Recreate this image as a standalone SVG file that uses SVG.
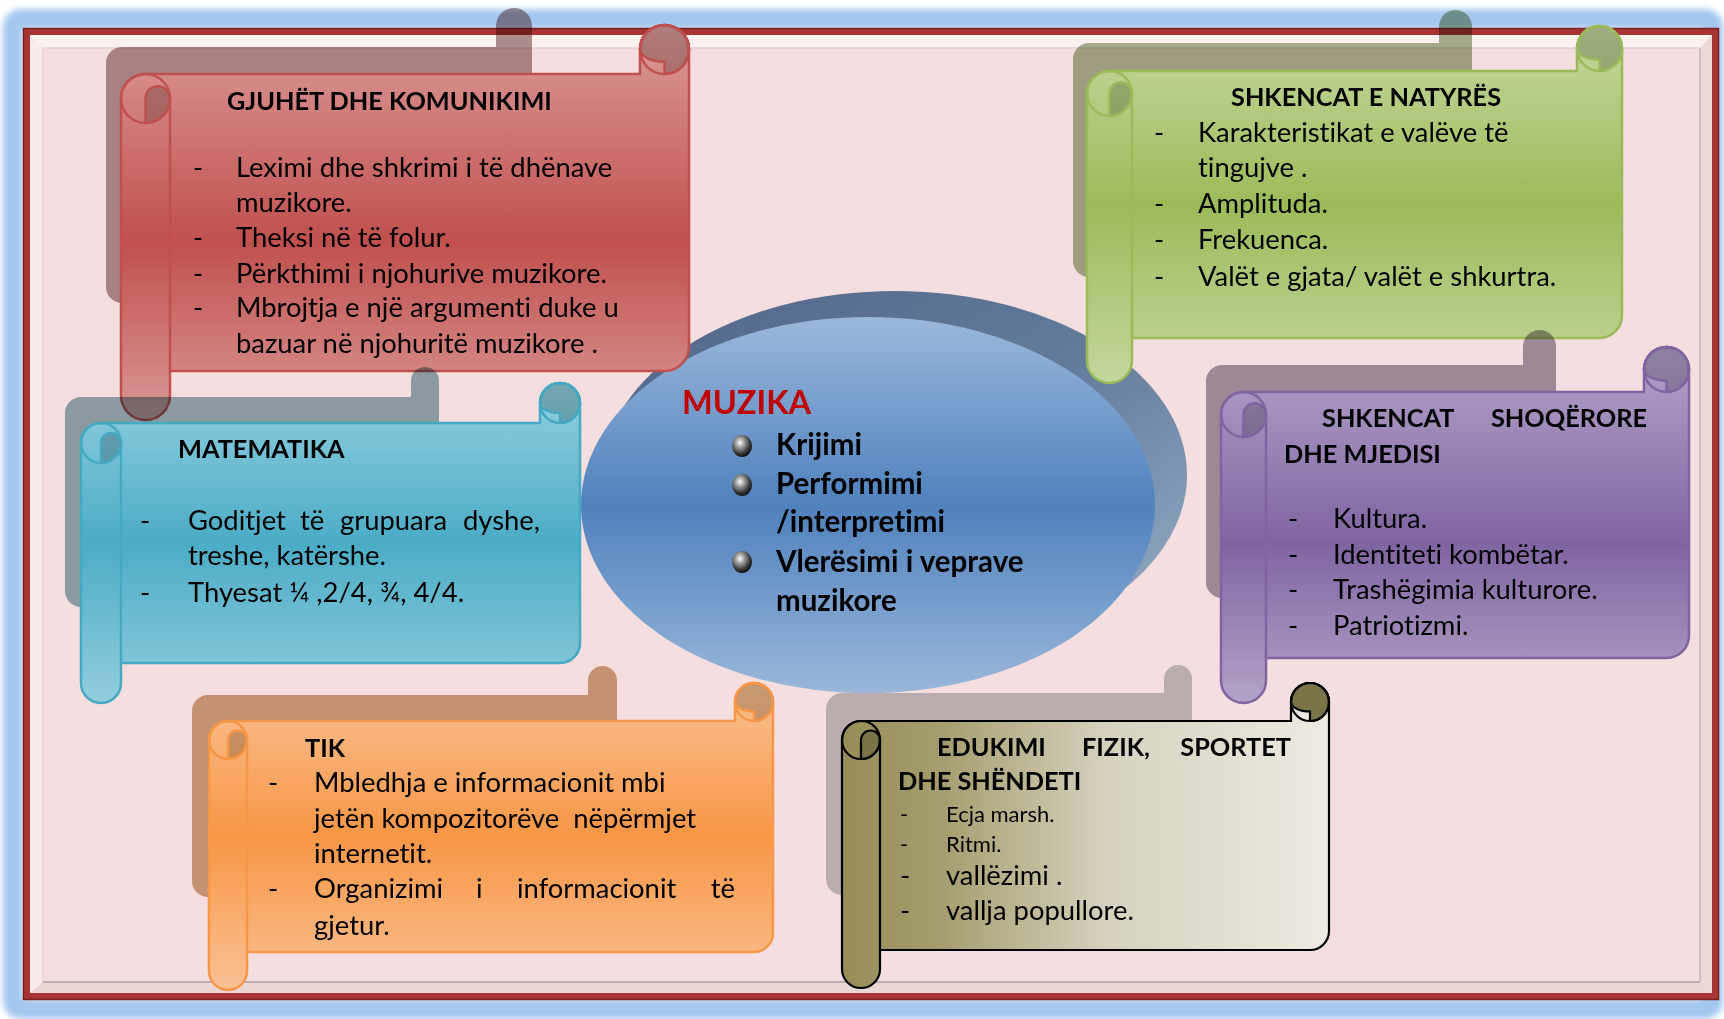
<svg xmlns="http://www.w3.org/2000/svg" width="1724" height="1019" viewBox="0 0 1724 1019">
<defs>
  <filter id="glow" x="-2%" y="-3%" width="104%" height="106%"><feGaussianBlur stdDeviation="3"/></filter>
  <linearGradient id="gRed" gradientUnits="userSpaceOnUse" x1="0" y1="25" x2="0" y2="420">
    <stop offset="0" stop-color="#DC9C9B"/><stop offset="0.55" stop-color="#C0504D"/><stop offset="1" stop-color="#DA9897"/>
  </linearGradient>
  <linearGradient id="gMath" gradientUnits="userSpaceOnUse" x1="0" y1="383" x2="0" y2="703">
    <stop offset="0" stop-color="#93D0E0"/><stop offset="0.5" stop-color="#4BACC6"/><stop offset="1" stop-color="#92CEDE"/>
  </linearGradient>
  <linearGradient id="gGreen" gradientUnits="userSpaceOnUse" x1="0" y1="26" x2="0" y2="383">
    <stop offset="0" stop-color="#C6D8A0"/><stop offset="0.5" stop-color="#9BBB59"/><stop offset="1" stop-color="#C4D79E"/>
  </linearGradient>
  <linearGradient id="gPurple" gradientUnits="userSpaceOnUse" x1="0" y1="347" x2="0" y2="703">
    <stop offset="0" stop-color="#B4A4CA"/><stop offset="0.55" stop-color="#8064A2"/><stop offset="1" stop-color="#B3A3C8"/>
  </linearGradient>
  <linearGradient id="gOrange" gradientUnits="userSpaceOnUse" x1="0" y1="683" x2="0" y2="990">
    <stop offset="0" stop-color="#FAC293"/><stop offset="0.5" stop-color="#F79646"/><stop offset="1" stop-color="#FAC193"/>
  </linearGradient>
  <linearGradient id="gOlive" gradientUnits="userSpaceOnUse" x1="842" y1="0" x2="1329" y2="0">
    <stop offset="0" stop-color="#968D58"/><stop offset="0.2" stop-color="#A59D6E"/><stop offset="0.55" stop-color="#D6D2BF"/><stop offset="1" stop-color="#ECEAE2"/>
  </linearGradient>
  <linearGradient id="gEllShadow" x1="0" y1="0" x2="1" y2="1">
    <stop offset="0" stop-color="#52668A"/><stop offset="0.5" stop-color="#627B9A"/><stop offset="1" stop-color="#9CB2CB"/>
  </linearGradient>
  <linearGradient id="gEll" x1="0" y1="0" x2="0" y2="1">
    <stop offset="0" stop-color="#9BB8DB"/><stop offset="0.5" stop-color="#4F81BD"/><stop offset="1" stop-color="#9AB7DA"/>
  </linearGradient>
  <radialGradient id="gBall" cx="0.4" cy="0.35" r="0.65">
    <stop offset="0" stop-color="#FFFFFF"/><stop offset="0.3" stop-color="#A8A8A8"/><stop offset="0.75" stop-color="#3A3A3A"/><stop offset="1" stop-color="#111111"/>
  </radialGradient>
  <style>
    .t { font-family: Lato, "Open Sans", "Liberation Sans", sans-serif; font-size: 27.4px; fill: #000; font-variant-ligatures: none; }
    .b { font-weight: bold; font-size: 25.3px; }
    .c { font-size: 29.5px; font-weight: bold; }
    .m { font-size: 32.5px; font-weight: bold; fill: #C00000; }
    .s { font-size: 22px; }
    .sh { mix-blend-mode: multiply; }
    .dark { fill: #000; fill-opacity: 0.2; }
    .red { stroke: #C0504D; stroke-width: 2.5; }
    .math { stroke: #45A9C4; stroke-width: 2.5; }
    .green { stroke: #9BBB59; stroke-width: 2.5; }
    .purple { stroke: #8064A2; stroke-width: 2.5; }
    .orange { stroke: #F79646; stroke-width: 2.5; }
    .olive { stroke: #000; stroke-width: 2.2; }
    .ln { fill: none; }
  </style>
</defs>

<!-- frame -->
<g id="frame">
  <rect x="0" y="0" width="1724" height="1019" fill="#FFFFFF"/>
  <rect x="13" y="19" width="1700" height="990" rx="8" fill="none" stroke="#A3C7EF" stroke-width="20" filter="url(#glow)"/>
  <rect x="23" y="28" width="1696" height="972" fill="#F5DEDF"/>
  <polygon points="30,35 1712,35 1700,48 43,48" fill="#FBF1F1"/>
  <polygon points="30,35 43,48 43,982 30,993" fill="#F9EBEB"/>
  <polygon points="30,993 43,982 1700,982 1712,993" fill="#EBD5D5"/>
  <polygon points="1712,35 1712,993 1700,982 1700,48" fill="#EDD8D8"/>
  <rect x="43" y="48" width="1657" height="934" fill="none" stroke="#E6CFCF" stroke-width="1.5"/>
  <line x1="43" y1="982" x2="1700" y2="982" stroke="#BFB1B1" stroke-width="2"/>
  <line x1="1700" y1="48" x2="1700" y2="982" stroke="#C9B9B9" stroke-width="1.5"/>
  <rect x="26.5" y="31.5" width="1689" height="965" fill="none" stroke="#A83535" stroke-width="7"/>
  <rect x="23.5" y="28.5" width="1695" height="971" fill="none" stroke="#7A2020" stroke-width="1.5"/>
</g>

<g id="connectors"/>

<!-- central node -->
<g id="n-muzika">
  <ellipse cx="895" cy="475" rx="292" ry="184" fill="url(#gEllShadow)"/>
  <ellipse cx="868" cy="505" rx="287" ry="188" fill="url(#gEll)"/>
  <text class="t m" x="682" y="414">MUZIKA</text>
  <ellipse cx="742" cy="446" rx="10" ry="11" fill="url(#gBall)"/>
  <ellipse cx="742" cy="485" rx="10" ry="11" fill="url(#gBall)"/>
  <ellipse cx="742" cy="562" rx="10" ry="11" fill="url(#gBall)"/>
  <text class="t c" x="776" y="455">Krijimi</text>
  <text class="t c" x="776" y="494">Performimi</text>
  <text class="t c" x="776" y="532">/interpretimi</text>
  <text class="t c" x="776" y="572">Vlerësimi i veprave</text>
  <text class="t c" x="776" y="611">muzikore</text>
</g>

<!-- GJUHËT DHE KOMUNIKIMI -->
<g id="n-gjuhet">
  <path class="sh" fill="#B19495" d="M106,63 A16,16 0 0 1 122,47 L496,47 L496,26 A18,18 0 0 1 532,26 L532,303 L122,303 A16,16 0 0 1 106,287 Z"/>
  <path class="red" fill="url(#gRed)" d="M145.5,74 L640,74 L640,49.5 A24.5,24.5 0 0 1 689,49.5 L689,346.5 A24.5,24.5 0 0 1 664.5,371 L170,371 L170,395.5 A24.5,24.5 0 0 1 121,395.5 L121,98.5 A24.5,24.5 0 0 1 145.5,74 Z"/>
  <path class="red dark" d="M640,49.5 A24.5,24.5 0 1 1 664.5,74 L664.5,61.75 A24.5,12.25 0 0 1 640,49.5 Z"/>
  <circle class="red ln" cx="664.5" cy="49.5" r="24.5"/>
  <path class="red dark" d="M145.5,123 L145.5,98.5 A12.25,12.25 0 0 1 170,98.5 A24.5,24.5 0 0 1 145.5,123 Z"/>
  <circle class="red ln" cx="145.5" cy="98.5" r="24.5"/>
  <line class="red" x1="170" y1="98.5" x2="170" y2="371"/>
  <text class="t b" x="227" y="110">GJUHËT DHE KOMUNIKIMI</text>
  <text class="t" x="193" y="177">-</text>
  <text class="t" x="193" y="247">-</text>
  <text class="t" x="193" y="283">-</text>
  <text class="t" x="193" y="317">-</text>
  <text class="t" x="236" y="177">Leximi dhe shkrimi i të dhënave</text>
  <text class="t" x="236" y="212">muzikore.</text>
  <text class="t" x="236" y="247">Theksi në të folur.</text>
  <text class="t" x="236" y="283">Përkthimi i njohurive muzikore.</text>
  <text class="t" x="236" y="317">Mbrojtja e një argumenti duke u</text>
  <text class="t" x="236" y="353">bazuar në njohuritë muzikore .</text>
</g>

<!-- MATEMATIKA -->
<g id="n-matematika">
  <path class="sh" fill="#91B1B7" d="M65,413 A16,16 0 0 1 81,397 L411,397 L411,381 A14,14 0 0 1 439,381 L439,607 L81,607 A16,16 0 0 1 65,591 Z"/>
  <path class="math" fill="url(#gMath)" d="M101,423 L540,423 L540,403 A20,20 0 0 1 580,403 L580,643 A20,20 0 0 1 560,663 L121,663 L121,683 A20,20 0 0 1 81,683 L81,443 A20,20 0 0 1 101,423 Z"/>
  <path class="math dark" d="M540,403 A20,20 0 1 1 560,423 L560,413 A20,10 0 0 1 540,403 Z"/>
  <circle class="math ln" cx="560" cy="403" r="20"/>
  <path class="math dark" d="M101,463 L101,443 A10,10 0 0 1 121,443 A20,20 0 0 1 101,463 Z"/>
  <circle class="math ln" cx="101" cy="443" r="20"/>
  <line class="math" x1="121" y1="443" x2="121" y2="663"/>
  <text class="t b" x="178" y="458">MATEMATIKA</text>
  <text class="t" x="140" y="530">-</text>
  <text class="t" x="140" y="602">-</text>
  <text class="t" y="530"><tspan x="188">Goditjet</tspan><tspan x="300">të</tspan><tspan x="340">grupuara</tspan></text>
  <text class="t" x="540" y="530" text-anchor="end">dyshe,</text>
  <text class="t" x="188" y="565">treshe, katërshe.</text>
  <text class="t" x="188" y="602">Thyesat ¼ ,2/4, ¾, 4/4.</text>
</g>

<!-- SHKENCAT E NATYRËS -->
<g id="n-shkencat-natyres">
  <path class="sh" fill="#A7B392" d="M1073,59 A16,16 0 0 1 1089,43 L1439,43 L1439,26.5 A16.5,16.5 0 0 1 1472,26.5 L1472,277 L1089,277 A16,16 0 0 1 1073,261 Z"/>
  <path class="green" fill="url(#gGreen)" d="M1109.5,71 L1577,71 L1577,48.5 A22.5,22.5 0 0 1 1622,48.5 L1622,315.5 A22.5,22.5 0 0 1 1599.5,338 L1132,338 L1132,360.5 A22.5,22.5 0 0 1 1087,360.5 L1087,93.5 A22.5,22.5 0 0 1 1109.5,71 Z"/>
  <path class="green dark" d="M1577,48.5 A22.5,22.5 0 1 1 1599.5,71 L1599.5,59.75 A22.5,11.25 0 0 1 1577,48.5 Z"/>
  <circle class="green ln" cx="1599.5" cy="48.5" r="22.5"/>
  <path class="green dark" d="M1109.5,116 L1109.5,93.5 A11.25,11.25 0 0 1 1132,93.5 A22.5,22.5 0 0 1 1109.5,116 Z"/>
  <circle class="green ln" cx="1109.5" cy="93.5" r="22.5"/>
  <line class="green" x1="1132" y1="93.5" x2="1132" y2="338"/>
  <text class="t b" x="1231" y="106">SHKENCAT E NATYRËS</text>
  <text class="t" x="1154" y="142">-</text>
  <text class="t" x="1154" y="213">-</text>
  <text class="t" x="1154" y="249">-</text>
  <text class="t" x="1154" y="286">-</text>
  <text class="t" x="1198" y="142">Karakteristikat e valëve të</text>
  <text class="t" x="1198" y="177">tingujve .</text>
  <text class="t" x="1198" y="213">Amplituda.</text>
  <text class="t" x="1198" y="249">Frekuenca.</text>
  <text class="t" x="1198" y="286">Valët e gjata/ valët e shkurtra.</text>
</g>

<!-- SHKENCAT SHOQËRORE DHE MJEDISI -->
<g id="n-shkencat-shoqerore">
  <path class="sh" fill="#A59CAC" d="M1206,381 A16,16 0 0 1 1222,365 L1523,365 L1523,346.5 A16.5,16.5 0 0 1 1556,346.5 L1556,598 L1222,598 A16,16 0 0 1 1206,582 Z"/>
  <path class="purple" fill="url(#gPurple)" d="M1243.5,392 L1644,392 L1644,369.5 A22.5,22.5 0 0 1 1689,369.5 L1689,635.5 A22.5,22.5 0 0 1 1666.5,658 L1266,658 L1266,680.5 A22.5,22.5 0 0 1 1221,680.5 L1221,414.5 A22.5,22.5 0 0 1 1243.5,392 Z"/>
  <path class="purple dark" d="M1644,369.5 A22.5,22.5 0 1 1 1666.5,392 L1666.5,380.75 A22.5,11.25 0 0 1 1644,369.5 Z"/>
  <circle class="purple ln" cx="1666.5" cy="369.5" r="22.5"/>
  <path class="purple dark" d="M1243.5,437 L1243.5,414.5 A11.25,11.25 0 0 1 1266,414.5 A22.5,22.5 0 0 1 1243.5,437 Z"/>
  <circle class="purple ln" cx="1243.5" cy="414.5" r="22.5"/>
  <line class="purple" x1="1266" y1="414.5" x2="1266" y2="658"/>
  <text class="t b" x="1322" y="427">SHKENCAT</text>
  <text class="t b" x="1647" y="427" text-anchor="end">SHOQËRORE</text>
  <text class="t b" x="1284" y="463">DHE MJEDISI</text>
  <text class="t" x="1288" y="528">-</text>
  <text class="t" x="1288" y="564">-</text>
  <text class="t" x="1288" y="599">-</text>
  <text class="t" x="1288" y="635">-</text>
  <text class="t" x="1333" y="528">Kultura.</text>
  <text class="t" x="1333" y="564">Identiteti kombëtar.</text>
  <text class="t" x="1333" y="599">Trashëgimia kulturore.</text>
  <text class="t" x="1333" y="635">Patriotizmi.</text>
</g>

<!-- TIK -->
<g id="n-tik">
  <path class="sh" fill="#CDA784" d="M192,711 A16,16 0 0 1 208,695 L588,695 L588,680.5 A14.5,14.5 0 0 1 617,680.5 L617,897 L208,897 A16,16 0 0 1 192,881 Z"/>
  <path class="orange" fill="url(#gOrange)" d="M228,721 L735,721 L735,702 A19,19 0 0 1 773,702 L773,933 A19,19 0 0 1 754,952 L247,952 L247,971 A19,19 0 0 1 209,971 L209,740 A19,19 0 0 1 228,721 Z"/>
  <path class="orange dark" d="M735,702 A19,19 0 1 1 754,721 L754,711.5 A19,9.5 0 0 1 735,702 Z"/>
  <circle class="orange ln" cx="754" cy="702" r="19"/>
  <path class="orange dark" d="M228,759 L228,740 A9.5,9.5 0 0 1 247,740 A19,19 0 0 1 228,759 Z"/>
  <circle class="orange ln" cx="228" cy="740" r="19"/>
  <line class="orange" x1="247" y1="740" x2="247" y2="952"/>
  <text class="t b" x="305" y="757">TIK</text>
  <text class="t" x="268" y="792">-</text>
  <text class="t" x="268" y="898">-</text>
  <text class="t" x="314" y="792">Mbledhja e informacionit mbi</text>
  <text class="t" x="314" y="828" xml:space="preserve">jetën kompozitorëve  nëpërmjet</text>
  <text class="t" x="314" y="863">internetit.</text>
  <text class="t" y="898"><tspan x="314">Organizimi</tspan><tspan x="476">i</tspan><tspan x="517">informacionit</tspan></text>
  <text class="t" x="735" y="898" text-anchor="end">të</text>
  <text class="t" x="314" y="935">gjetur.</text>
</g>

<!-- EDUKIMI FIZIK, SPORTET DHE SHËNDETI -->
<g id="n-edukimi">
  <path class="sh" fill="#C3C7C7" d="M826,709 A16,16 0 0 1 842,693 L1164,693 L1164,679 A14,14 0 0 1 1192,679 L1192,895 L842,895 A16,16 0 0 1 826,879 Z"/>
  <path class="olive" fill="url(#gOlive)" d="M861,721 L1291,721 L1291,702 A19,19 0 0 1 1329,702 L1329,931 A19,19 0 0 1 1310,950 L880,950 L880,969 A19,19 0 0 1 842,969 L842,740 A19,19 0 0 1 861,721 Z"/>
  <path class="olive" fill="#7B7448" d="M1291,702 A19,19 0 1 1 1310,721 L1310,711.5 A19,9.5 0 0 1 1291,702 Z"/>
  <circle class="olive ln" cx="1310" cy="702" r="19"/>
  <path class="olive" fill="#7B7448" d="M861,759 L861,740 A9.5,9.5 0 0 1 880,740 A19,19 0 0 1 861,759 Z"/>
  <circle class="olive ln" cx="861" cy="740" r="19"/>
  <line class="olive" x1="880" y1="740" x2="880" y2="950"/>
  <text class="t b" x="937" y="756">EDUKIMI</text>
  <text class="t b" x="1082" y="756">FIZIK,</text>
  <text class="t b" x="1291" y="756" text-anchor="end">SPORTET</text>
  <text class="t b" x="898" y="790">DHE SHËNDETI</text>
  <text class="t s" x="900" y="822">-</text>
  <text class="t s" x="900" y="852">-</text>
  <text class="t" x="900" y="885">-</text>
  <text class="t" x="900" y="920">-</text>
  <text class="t s" x="946" y="822">Ecja marsh.</text>
  <text class="t s" x="946" y="852">Ritmi.</text>
  <text class="t" x="946" y="885">vallëzimi .</text>
  <text class="t" x="946" y="920">vallja popullore.</text>
</g>
</svg>
